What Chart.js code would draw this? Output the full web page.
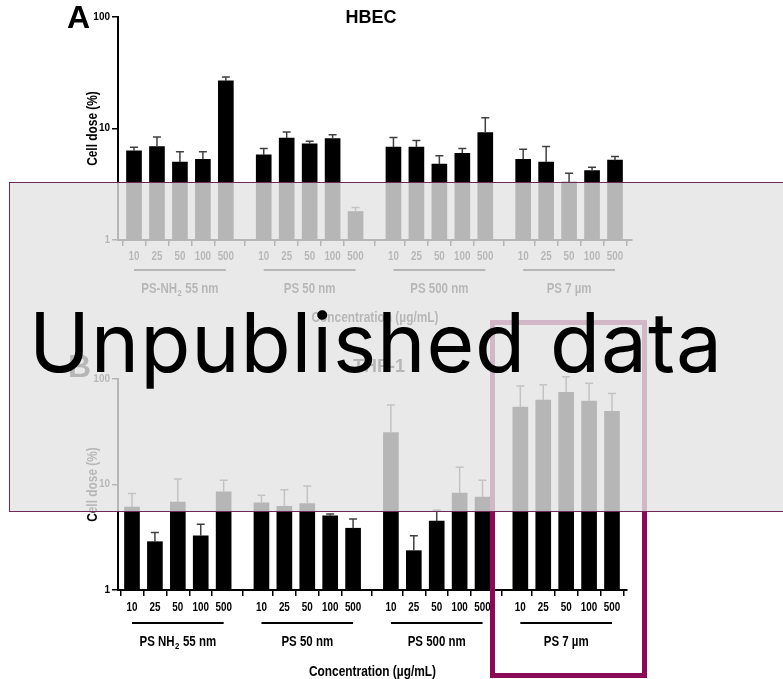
<!DOCTYPE html>
<html>
<head>
<meta charset="utf-8">
<script src="https://cdn.jsdelivr.net/npm/chart.js@4"></script>
<style>
  html, body { margin: 0; padding: 0; background: #fff; }
  body { width: 783px; height: 679px; overflow: hidden; position: relative; }
  canvas { position: absolute; left: 0; }
  #cA { top: 0; }
  #cB { top: 340px; }
  .hlbox { position: absolute; left: 490px; top: 320px; width: 157px; height: 358px; box-sizing: border-box; border: 5px solid rgb(140, 10, 85); }
  .veil { position: absolute; left: 9px; top: 182px; width: 800px; height: 330px; box-sizing: border-box; background: rgba(227, 227, 227, 0.8); border: 1.5px solid rgb(112, 40, 85); }
  .wm { position: absolute; left: 27px; top: 301px; font-family: Inter, "Open Sans", sans-serif; font-weight: 400; font-size: 82px; line-height: 82px; color: #000; white-space: nowrap; }
  .wm .bl { display: inline-block; width: 0; height: 0; }
</style>
</head>
<body>
<canvas id="cA" width="783" height="335"></canvas>
<canvas id="cB" width="783" height="339"></canvas>
<div class="hlbox"></div>
<div class="veil"></div>
<div class="wm"><span class="t">Unpublished data</span><span class="bl"></span></div>
<script>
// ---------------- data ----------------
const concentrations = ['10', '25', '50', '100', '500'];
const particlesA = ['PS-NH₂ 55 nm', 'PS 50 nm', 'PS 500 nm', 'PS 7 µm'];
const particlesB = ['PS NH₂ 55 nm', 'PS 50 nm', 'PS 500 nm', 'PS 7 µm'];
const yTicks = [1, 10, 100];

// HBEC cell dose (%), mean and upper SD, 4 particles x 5 concentrations
const hbecMean = [6.3, 6.9, 5.0, 5.3, 26.7,  5.8, 8.2, 7.3, 8.1, 1.8,  6.8, 6.8, 4.8, 6.0, 9.2,  5.3, 5.0, 3.3, 4.2, 5.2];
const hbecSD   = [0.5, 1.5, 1.2, 0.9, 2.3,   0.8, 1.1, 0.4, 0.7, 0.16, 1.5, 1.0, 0.9, 0.6, 3.3,  1.2, 1.9, 0.66, 0.3, 0.4];

// THP-1 cell dose (%)
const thp1Mean = [6.1, 2.87, 6.8, 3.27, 8.5,  6.7, 6.2, 6.6, 5.06, 3.85,  31, 2.36, 4.5, 8.3, 7.6,  54.3, 63.2, 74.8, 61.9, 49.4];
const thp1SD   = [2.1, 0.63, 4.5, 0.93, 2.5,  1.2, 2.7, 3.1, 0.19, 0.85,  25.7, 0.91, 1.2, 6.3, 3.4,  31.7, 24.8, 30, 29.1, 23.6];

// ---------------- layout helpers ----------------
const GROUP_GAP = 5.65;
const xPos = k => Math.floor(k / 5) * GROUP_GAP + (k % 5);
const SANS = '"Liberation Sans", Arial, sans-serif';
const SQUEEZE = 0.82; // condensed look of the axis text

// condensed text drawing: horizontal squeeze along the text direction
function cText(ctx, text, x, y, size, align, rotate) {
  ctx.save();
  ctx.translate(x, y);
  if (rotate) ctx.rotate(-Math.PI / 2);
  ctx.scale(SQUEEZE, 1);
  ctx.font = 'bold ' + size + 'px ' + SANS;
  ctx.textAlign = align;
  ctx.textBaseline = 'alphabetic';
  ctx.fillText(text, 0, 0);
  ctx.restore();
}

function groupLabel(ctx, text, cx, baseY) {
  const parts = text.split('₂');
  const main = 'bold 14px ' + SANS, sub = 'bold 9.5px ' + SANS;
  ctx.save();
  ctx.translate(cx, baseY);
  ctx.scale(SQUEEZE, 1);
  ctx.textAlign = 'left';
  ctx.textBaseline = 'alphabetic';
  ctx.font = main;
  const w1 = ctx.measureText(parts[0]).width;
  const w3 = parts.length > 1 ? ctx.measureText(parts[1]).width : 0;
  ctx.font = sub;
  const w2 = parts.length > 1 ? ctx.measureText('2').width + 1 : 0;
  let x = -(w1 + w2 + w3) / 2;
  ctx.font = main;
  ctx.fillText(parts[0], x, 0);
  if (parts.length > 1) {
    x += w1 + 0.5;
    ctx.font = sub;
    ctx.fillText('2', x, 3);
    x += w2 - 0.5;
    ctx.font = main;
    ctx.fillText(parts[1], x, 0);
  }
  ctx.restore();
}

function panelPlugin(o) {
  return {
    id: 'panel' + o.letter,
    afterDatasetsDraw(chart) {
      const ctx = chart.ctx, ys = chart.scales.y;
      const meta = chart.getDatasetMeta(0);
      ctx.save();
      ctx.strokeStyle = '#404040';
      ctx.lineWidth = 1.5;
      meta.data.forEach((bar, i) => {
        const top = ys.getPixelForValue(o.mean[i] + o.sd[i]);
        ctx.beginPath();
        ctx.moveTo(bar.x, bar.y);
        ctx.lineTo(bar.x, top);
        ctx.moveTo(bar.x - 4, top);
        ctx.lineTo(bar.x + 4, top);
        ctx.stroke();
      });
      ctx.restore();
    },
    afterDraw(chart) {
      const ctx = chart.ctx, xs = chart.scales.x, area = chart.chartArea;
      ctx.save();
      ctx.fillStyle = '#000';
      ctx.strokeStyle = '#000';
      // concentration tick labels (one per bar tick of the x scale)
      xs.ticks.forEach((t, i) => {
        cText(ctx, concentrations[i % 5], xs.getPixelForValue(t.value), area.bottom + o.tickBase, 12, 'center');
      });
      // particle group underline + name
      ctx.lineWidth = 2;
      o.groups.forEach((name, g) => {
        const x1 = xs.getPixelForValue(xPos(g * 5));
        const x2 = xs.getPixelForValue(xPos(g * 5 + 4));
        const ly = area.bottom + o.lineOff;
        ctx.beginPath();
        ctx.moveTo(x1, ly);
        ctx.lineTo(x2, ly);
        ctx.stroke();
        groupLabel(ctx, name, (x1 + x2) / 2, area.bottom + o.labelBase);
      });
      // axis titles
      cText(ctx, 'Concentration (µg/mL)', (area.left + area.right) / 2, area.bottom + o.xTitleBase, 14.5, 'center');
      cText(ctx, 'Cell dose (%)', 96.5, (area.top + area.bottom) / 2, 14.5, 'center', true);
      // panel letter and title
      ctx.textBaseline = 'alphabetic';
      ctx.textAlign = 'left';
      ctx.font = 'bold 32px ' + SANS;
      ctx.fillText(o.letter, o.letterX, o.letterY);
      ctx.textAlign = 'center';
      ctx.font = 'bold 18px ' + SANS;
      ctx.fillText(o.title, o.titleX, o.titleY);
      ctx.restore();
    }
  };
}

function makeChart(id, o) {
  return new Chart(document.getElementById(id), {
    type: 'bar',
    data: {
      datasets: [{
        data: o.mean.map((v, k) => ({ x: xPos(k), y: v })),
        backgroundColor: '#000',
        borderWidth: 0,
        barThickness: 15
      }]
    },
    options: {
      responsive: false,
      animation: false,
      devicePixelRatio: 1,
      layout: { padding: { left: 0, top: o.top, right: o.right, bottom: 0 } },
      plugins: { legend: { display: false }, tooltip: { enabled: false }, title: { display: false } },
      scales: {
        x: {
          type: 'linear', min: o.xmin, max: o.xmax, offset: false,
          afterBuildTicks: s => { s.ticks = o.mean.map((v, k) => ({ value: xPos(k) })); },
          ticks: { display: false, autoSkip: false },
          grid: { drawOnChartArea: false, drawTicks: true, tickLength: 6, color: '#000', lineWidth: 1.5 },
          border: { display: true, color: '#000', width: 2 },
          title: { display: false },
          afterFit: s => { s.height = o.xHeight; }
        },
        y: {
          type: 'logarithmic', min: 1, max: 100,
          afterBuildTicks: s => { s.ticks = yTicks.map(v => ({ value: v, major: true })); },
          ticks: {
            padding: 2, color: '#000',
            font: { family: SANS, size: 10, weight: 'bold' },
            callback: v => String(v)
          },
          grid: { drawOnChartArea: false, drawTicks: true, tickLength: 6, color: '#000', lineWidth: 1.5 },
          border: { display: true, color: '#000', width: 2 },
          title: { display: false },
          afterFit: s => { s.width = 118; }
        }
      }
    },
    plugins: [panelPlugin(o)]
  });
}

makeChart('cA', {
  letter: 'A', title: 'HBEC', mean: hbecMean, sd: hbecSD, groups: particlesA,
  top: 17, right: 151, xHeight: 95, xmin: -0.697, xmax: 21.69,
  tickBase: 20, lineOff: 30, labelBase: 53, xTitleBase: 82,
  letterX: 67, letterY: 28, titleX: 371, titleY: 23
});

makeChart('cB', {
  letter: 'B', title: 'THP-1', mean: thp1Mean, sd: thp1SD, groups: particlesB,
  top: 39, right: 156, xHeight: 89, xmin: -0.611, xmax: 21.605,
  tickBase: 21, lineOff: 33, labelBase: 55.7, xTitleBase: 86,
  letterX: 68, letterY: 37, titleX: 379, titleY: 31.7
});

// ---------------- watermark fit (ink from about x=33 to x=720, baseline y=372) ----------------
function fitWatermark() {
  const wm = document.querySelector('.wm');
  const mark = wm.querySelector('.bl');
  const text = wm.querySelector('.t').textContent;
  const c = document.createElement('canvas').getContext('2d');
  c.font = '400 82px Inter';
  const m = c.measureText(text);
  const ink = m.actualBoundingBoxLeft + m.actualBoundingBoxRight;
  const ls = (680 - ink) / (text.length - 1);
  wm.style.letterSpacing = ls + 'px';
  wm.style.left = (36 + m.actualBoundingBoxLeft) + 'px';
  const base = mark.getBoundingClientRect().top;
  wm.style.top = (wm.offsetTop + 372 - base) + 'px';
}
fitWatermark();
if (document.fonts && document.fonts.ready) document.fonts.ready.then(fitWatermark);
</script>
</body>
</html>
